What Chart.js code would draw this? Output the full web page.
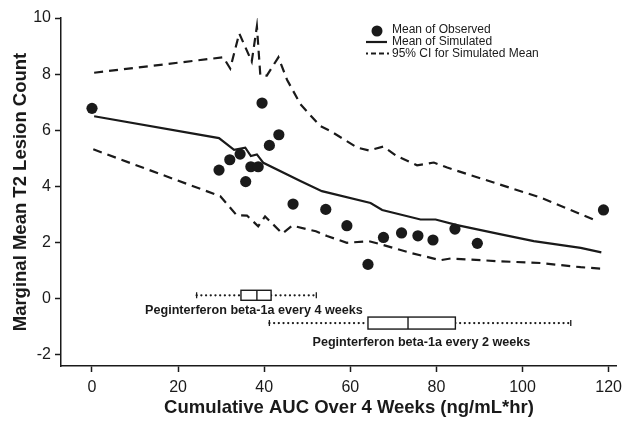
<!DOCTYPE html>
<html lang="en">
<head>
<meta charset="UTF-8">
<title>Marginal Mean T2 Lesion Count</title>
<script src="https://cdn.jsdelivr.net/npm/chart.js@4.4.0/dist/chart.umd.min.js"></script>
<style>
  html, body { margin: 0; padding: 0; background: #fff; }
  #wrap { width: 622px; height: 427px; }
</style>
</head>
<body>
<div id="wrap"><canvas id="chart" width="622" height="427"></canvas></div>
<script>
// observed means
const obsX = [0, 29.5, 32.0, 34.4, 35.7, 36.9, 38.6, 39.5, 41.2, 43.4, 46.7, 54.3, 59.2, 64.1, 67.7, 71.9, 75.7, 79.2, 84.3, 89.5, 118.8];
const obsY = [6.78, 4.58, 4.95, 5.15, 4.17, 4.7, 4.7, 6.97, 5.46, 5.84, 3.37, 3.18, 2.6, 1.22, 2.18, 2.34, 2.24, 2.09, 2.48, 1.97, 3.16];

// simulated mean
const simX = [0.5, 29.5, 33.0, 35.6, 36.9, 38.3, 39.8, 48.4, 53.4, 64.7, 67.4, 76.3, 79.8, 84.8, 95.0, 102.6, 113.5, 118.3];
const simY = [6.5, 5.72, 5.30, 5.38, 5.08, 5.14, 4.84, 4.19, 3.83, 3.41, 3.16, 2.82, 2.82, 2.62, 2.29, 2.05, 1.81, 1.65];

// 95% CI upper / lower
const upX = [0.5, 30.5, 32.1, 34.2, 37.1, 38.3, 39.1, 40.6, 43.3, 45.3, 48.4, 53.0, 55.3, 61.6, 64.3, 67.7, 70.8, 75.5, 79.4, 82.5, 104.2, 116.5];
const upY = [8.05, 8.6, 8.2, 9.45, 8.45, 9.7, 7.95, 7.95, 8.6, 7.8, 6.93, 6.15, 5.98, 5.38, 5.28, 5.42, 5.08, 4.75, 4.85, 4.67, 3.6, 2.82];
const loX = [0.3, 29.8, 33.6, 36.0, 38.6, 40.2, 44.2, 46.5, 52.0, 54.6, 59.2, 64.3, 67.7, 74.0, 80.9, 83.3, 94.9, 104.2, 113.5, 118.3];
const loY = [5.32, 3.65, 2.97, 2.96, 2.58, 2.93, 2.32, 2.6, 2.4, 2.23, 1.99, 2.05, 1.91, 1.63, 1.37, 1.43, 1.33, 1.27, 1.12, 1.07];

// exposure box plots
const boxNames = ['Peginterferon beta-1a every 4 weeks', 'Peginterferon beta-1a every 2 weeks'];
const boxMin = [24.3, 41.2];
const boxQ1 = [34.6, 64.1];
const boxMed = [38.3, 73.4];
const boxQ3 = [41.6, 84.4];
const boxMax = [52.1, 111.2];

const xTicks = [0, 20, 40, 60, 80, 100, 120];
const yTicks = [-2, 0, 2, 4, 6, 8, 10];
const xMax = 121.8;

const ink = '#1a1a1a';
const fam = '"Liberation Sans", Arial, sans-serif';

function pts(xs, ys) {
    return xs.map((x, i) => ({ x: x, y: ys[i] }));
}

const boxPlugin = {
    id: 'boxes',
    afterDatasetsDraw(chart, args, opts) {
        const ctx = chart.ctx;
        const xs = chart.scales.x, ys = chart.scales.y;
        ctx.save();
        ctx.strokeStyle = ink;
        ctx.fillStyle = ink;
        boxNames.forEach((name, i) => {
            const yc = ys.getPixelForValue(opts.rows[i]);
            const h = opts.half[i];
            const pMin = xs.getPixelForValue(boxMin[i]);
            const pQ1 = xs.getPixelForValue(boxQ1[i]);
            const pMed = xs.getPixelForValue(boxMed[i]);
            const pQ3 = xs.getPixelForValue(boxQ3[i]);
            const pMax = xs.getPixelForValue(boxMax[i]);
            // dotted whiskers
            ctx.lineWidth = 2.2;
            ctx.lineCap = 'round';
            ctx.setLineDash([0.1, 4.6]);
            ctx.beginPath();
            ctx.moveTo(pMin, yc); ctx.lineTo(pQ1, yc);
            ctx.moveTo(pQ3, yc); ctx.lineTo(pMax, yc);
            ctx.stroke();
            ctx.setLineDash([]);
            ctx.lineCap = 'butt';
            // end caps
            ctx.lineWidth = 1.3;
            ctx.beginPath();
            ctx.moveTo(pMin, yc - 3); ctx.lineTo(pMin, yc + 3);
            ctx.moveTo(pMax, yc - 3); ctx.lineTo(pMax, yc + 3);
            ctx.stroke();
            // box + median
            ctx.lineWidth = 1.4;
            ctx.fillStyle = '#fff';
            ctx.fillRect(pQ1, yc - h, pQ3 - pQ1, 2 * h);
            ctx.strokeRect(pQ1, yc - h, pQ3 - pQ1, 2 * h);
            ctx.beginPath();
            ctx.moveTo(pMed, yc - h); ctx.lineTo(pMed, yc + h);
            ctx.stroke();
            // label
            ctx.fillStyle = ink;
            ctx.font = 'bold 12.6px ' + fam;
            ctx.textAlign = 'center';
            ctx.textBaseline = 'middle';
            ctx.fillText(name, xs.getPixelForValue(opts.labelX[i]), ys.getPixelForValue(opts.labelY[i]));
        });
        ctx.restore();
    }
};

const legendPlugin = {
    id: 'legendBox',
    afterDraw(chart) {
        const ctx = chart.ctx;
        ctx.save();
        ctx.fillStyle = ink;
        ctx.strokeStyle = ink;
        ctx.font = '12px ' + fam;
        ctx.textBaseline = 'middle';
        ctx.textAlign = 'left';
        // observed
        ctx.beginPath();
        ctx.arc(377, 31, 5.5, 0, Math.PI * 2);
        ctx.fill();
        ctx.fillText('Mean of Observed', 392, 30);
        // simulated
        ctx.lineWidth = 2.2;
        ctx.beginPath();
        ctx.moveTo(366, 42); ctx.lineTo(387, 42);
        ctx.stroke();
        ctx.fillText('Mean of Simulated', 392, 42);
        // CI
        ctx.setLineDash([2, 3, 5, 3, 5, 3, 2, 50]);
        ctx.beginPath();
        ctx.moveTo(366, 53.5); ctx.lineTo(389, 53.5);
        ctx.stroke();
        ctx.setLineDash([]);
        ctx.fillText('95% CI for Simulated Mean', 392, 53.5);
        ctx.restore();
    }
};

const lineStyle = {
    showLine: true,
    borderColor: ink,
    borderWidth: 2.2,
    pointRadius: 0,
    tension: 0,
    fill: false
};

const ctx = document.getElementById('chart').getContext('2d');
const myChart = new Chart(ctx, {
    type: 'scatter',
    data: {
        datasets: [
            Object.assign({ label: '95% CI upper', data: pts(upX, upY), borderDash: [9, 6] }, lineStyle),
            Object.assign({ label: '95% CI lower', data: pts(loX, loY), borderDash: [9, 6] }, lineStyle),
            Object.assign({ label: 'Mean of Simulated', data: pts(simX, simY) }, lineStyle),
            {
                label: 'Mean of Observed',
                data: pts(obsX, obsY),
                pointRadius: 5.6,
                pointBackgroundColor: ink,
                pointBorderWidth: 0,
                showLine: false
            }
        ]
    },
    options: {
        responsive: false,
        animation: false,
        devicePixelRatio: 1,
        layout: { padding: { top: 18, right: 1, left: 0, bottom: 0 } },
        plugins: {
            legend: { display: false },
            tooltip: { enabled: false },
            boxes: {
                rows: [0.12, -0.87],
                half: [5, 6],
                labelX: [37.6, 76.5],
                labelY: [-0.43, -1.55]
            }
        },
        scales: {
            x: {
                type: 'linear',
                min: -7.2,
                max: xMax,
                // blank end tick at the axis end
                afterBuildTicks: s => { s.ticks = xTicks.concat([xMax]).map(v => ({ value: v })); },
                afterFit: s => { s.height = 61; },
                grid: {
                    drawOnChartArea: false, drawTicks: true, tickLength: 6, tickWidth: 1.5,
                    tickColor: c => (c.tick && c.tick.value === xMax) ? 'rgba(0,0,0,0)' : ink
                },
                border: { color: ink, width: 1.5 },
                ticks: {
                    color: ink, padding: 0, maxRotation: 0,
                    font: { family: fam, size: 16, lineHeight: 2 },
                    callback: v => xTicks.includes(v) ? String(v) : ''
                },
                title: {
                    display: true,
                    text: '    Cumulative AUC Over 4 Weeks (ng/mL*hr)',
                    color: ink,
                    font: { family: fam, size: 18.5, weight: 'bold' },
                    padding: { top: 0, bottom: 8 }
                }
            },
            y: {
                type: 'linear',
                min: -2.4,
                max: 10,
                afterBuildTicks: s => { s.ticks = yTicks.map(v => ({ value: v })); },
                afterFit: s => { s.width = 61; },
                grid: { drawOnChartArea: false, drawTicks: true, tickLength: 6, tickWidth: 1.5, tickColor: ink },
                border: { color: ink, width: 1.5 },
                ticks: { color: ink, padding: 4, font: { family: fam, size: 16 } },
                title: {
                    display: true,
                    text: 'Marginal Mean T2 Lesion Count',
                    color: ink,
                    font: { family: fam, size: 18.5, weight: 'bold' },
                    padding: { top: 10, bottom: 0 }
                }
            }
        }
    },
    plugins: [boxPlugin, legendPlugin]
});
</script>
</body>
</html>
